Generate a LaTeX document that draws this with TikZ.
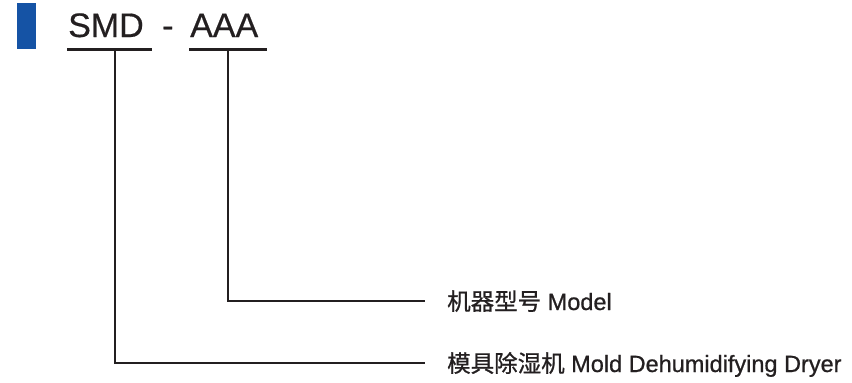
\documentclass[tikz,border=0pt]{standalone}
\usepackage{fontspec}
\setmainfont{Liberation Sans}
\newfontfamily\cjk[FakeBold=0.8]{Noto Sans CJK SC}
\newfontfamily\lblfont[FakeBold=0.8]{Liberation Sans}
\newfontfamily\titlefont[FakeBold=0.5]{Liberation Sans}
\definecolor{inkdark}{RGB}{35,31,32}
\definecolor{barblue}{RGB}{21,83,165}
\begin{document}
\begin{tikzpicture}[x=1pt,y=-1pt,
  title/.style={inner sep=0pt,anchor=base west,text=inkdark,font=\titlefont\fontsize{34}{40}\selectfont},
  label/.style={inner sep=0pt,anchor=west,text=inkdark,text height=20pt,text depth=2pt,font=\lblfont\fontsize{23.5}{28}\selectfont},
  uline/.style={draw=inkdark,line width=3pt},
  conn/.style={draw=inkdark,line width=2.4pt}]
\useasboundingbox (0,0) rectangle (852,383);
\fill[barblue] (17,3) rectangle (36,49);
\node[title] (smd) at (68,37) {SMD};
\node[title] (dash) at (162,37) {-};
\node[title] (aaa) at (190,37) {AAA};
\coordinate (smdL) at (67,49);
\coordinate (smdR) at (152,49);
\coordinate (aaaL) at (189,49);
\coordinate (aaaR) at (267,49);
\coordinate (smdtap) at (115,49);
\coordinate (aaatap) at (228,49);
\draw[uline] (smdL) -- (smdR);
\draw[uline] (aaaL) -- (aaaR);
\node[label] (model) at (447,301) {{\cjk 机器型号} Model};
\node[label] (dryer) at (447,363) {{\cjk 模具除湿机} Mold Dehumidifying Dryer};
\draw[conn] (aaatap) |- ([xshift=-22pt]model.west);
\draw[conn] (smdtap) |- ([xshift=-22pt]dryer.west);
\end{tikzpicture}
\end{document}
